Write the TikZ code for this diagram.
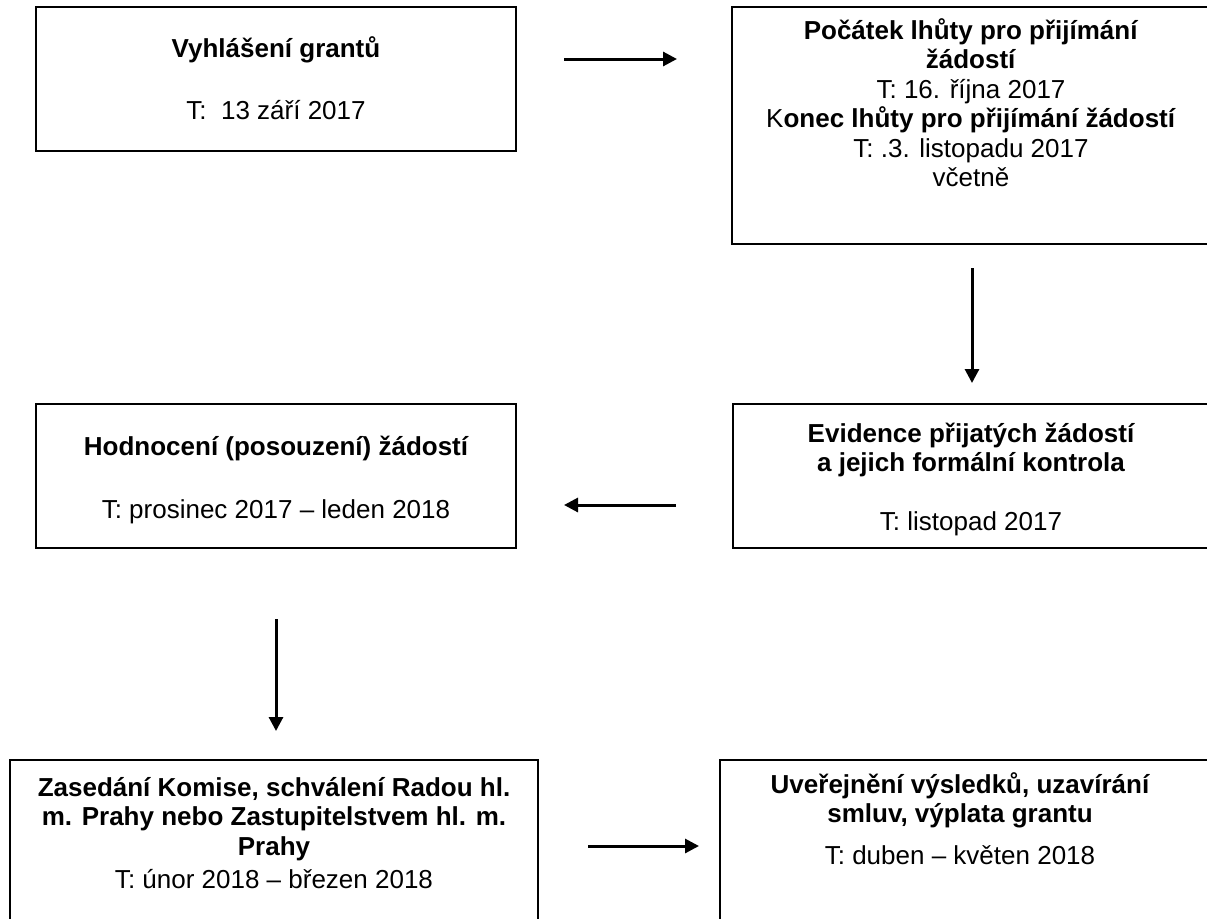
\documentclass[tikz,border=0pt]{standalone}
\usepackage{fontspec}
\setmainfont{Liberation Sans}
\usetikzlibrary{arrows.meta,fit}
\begin{document}
\begin{tikzpicture}[x=1pt,y=-1pt,
  box/.style={draw, line width=2pt, inner sep=0pt},
  txt/.style={align=center, anchor=base, inner sep=0pt, font=\fontsize{26}{29.5}\selectfont},
  ttl/.style={align=center, anchor=base, inner sep=0pt, font=\fontsize{26}{29.5}\selectfont\bfseries},
  flow/.style={line width=3pt, -{Triangle[length=14pt,width=14pt]}}]
\useasboundingbox (0,0) rectangle (1207,918);
\fill[white] (0,0) rectangle (1207,918);

% boxes
\node[box, fit={(36,7) (516,151)}] (b1) {};
\node[box, fit={(732,7) (1212,244)}] (b2) {};
\node[box, fit={(733,404) (1212,548)}] (b3) {};
\node[box, fit={(36,404) (516,548)}] (b4) {};
\node[box, fit={(10,760) (538,930)}] (b5) {};
\node[box, fit={(720,760) (1212,930)}] (b6) {};

% texts (anchor base = baseline of the last line)
\node[ttl] (t1a) at (276,57) {Vyhlášení grantů};
\node[txt] (t1b) at (276,119) {T:\ \ 13 září 2017};

\node[txt] (t2) at (971,186.5) {\textbf{Počátek lhůty pro přijímání}\\ \textbf{žádostí}\\ T: 16. října 2017\\ K\textbf{onec lhůty pro přijímání žádostí}\\ T: .3. listopadu 2017\\ včetně};

\node[ttl] (t3a) at (971,471.5) {Evidence přijatých žádostí\\ a jejich formální kontrola};
\node[txt] (t3b) at (971,530) {T: listopad 2017};

\node[ttl] (t4a) at (276,455) {Hodnocení (posouzení) žádostí};
\node[txt] (t4b) at (276,518) {T: prosinec 2017 – leden 2018};

\node[ttl] (t5a) at (274,855) {Zasedání Komise, schválení Radou hl.\\ m. Prahy nebo Zastupitelstvem hl. m.\\ Prahy};
\node[txt] (t5b) at (274,888) {T: únor 2018 – březen 2018};

\node[ttl] (t6a) at (960,822.5) {Uveřejnění výsledků, uzavírání\\ smluv, výplata grantu};
\node[txt] (t6b) at (960,864) {T: duben – květen 2018};

% connectors
\coordinate (a1s) at (564,59);  \coordinate (a1e) at (677,59);
\coordinate (a2s) at (972,268); \coordinate (a2e) at (972,383);
\coordinate (a3s) at (676,505); \coordinate (a3e) at (564,505);
\coordinate (a4s) at (276,619); \coordinate (a4e) at (276,731);
\coordinate (a5s) at (588,846); \coordinate (a5e) at (699,846);
\draw[flow] (a1s) -- (a1e);
\draw[flow] (a2s) -- (a2e);
\draw[flow] (a3s) -- (a3e);
\draw[flow] (a4s) -- (a4e);
\draw[flow] (a5s) -- (a5e);
\end{tikzpicture}
\end{document}
